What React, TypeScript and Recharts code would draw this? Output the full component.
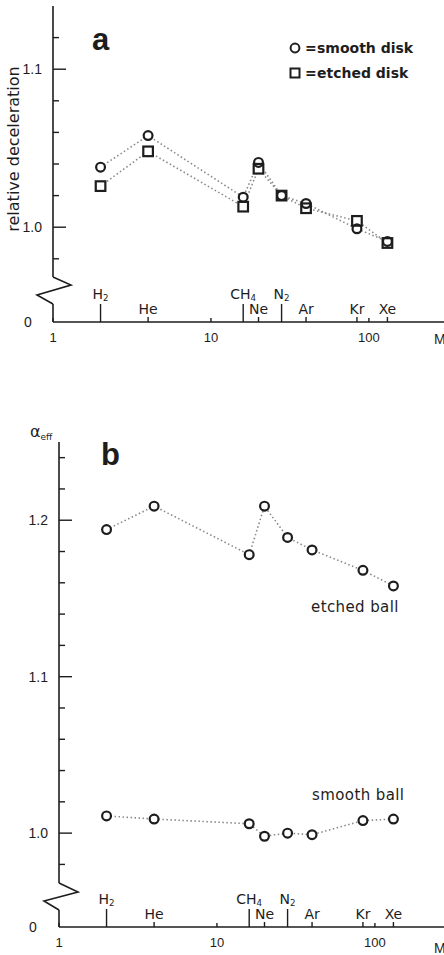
import { LineChart, Line, XAxis, YAxis } from 'recharts';

// gases along the mass axis
const gasNames = ['H2', 'He', 'CH4', 'Ne', 'N2', 'Ar', 'Kr', 'Xe'];
const gasMasses = [2, 4, 16, 20, 28, 40, 84, 131];

// a: relative deceleration of the spinning disk
const smoothDisk = [1.038, 1.058, 1.019, 1.041, 1.02, 1.015, 0.999, 0.991];
const etchedDisk = [1.026, 1.048, 1.013, 1.037, 1.02, 1.012, 1.004, 0.99];

// b: effective accommodation coefficient of the ball
const etchedBall = [1.194, 1.209, 1.178, 1.209, 1.189, 1.181, 1.168, 1.158];
const smoothBall = [1.011, 1.009, 1.006, 0.998, 1.0, 0.999, 1.008, 1.009];

const massDecades = [1, 10, 100];
const decelTicks = [0.98, 1.0, 1.02, 1.04, 1.06, 1.08, 1.1, 1.12];
const alphaTicks = [0.98, 1.0, 1.02, 1.04, 1.06, 1.08, 1.1, 1.12, 1.14, 1.16, 1.18, 1.2, 1.22, 1.24];

const diskRows = gasMasses.map((mass, i) => ({ mass, smooth: smoothDisk[i], etched: etchedDisk[i] }));
const ballRows = gasMasses.map((mass, i) => ({ mass, etched: etchedBall[i], smooth: smoothBall[i] }));
const massTicks = [...massDecades, ...gasMasses].sort((p, q) => p - q);

const INK = '#1d1d1d';
const DOTTED = '#8a8a8a';
const SANS = '"DejaVu Sans", sans-serif';
const HELV = '"Liberation Sans", Arial, sans-serif';
const MASS_DOMAIN: [number, number] = [1, 400];

function chem(name: string, size: number) {
  const m = name.match(/^([A-Za-z]+)(\d*)$/);
  const base = m ? m[1] : name;
  const sub = m ? m[2] : '';
  return [
    <tspan key="b">{base}</tspan>,
    sub ? (
      <tspan key="s" fontSize={size * 0.62} dy={2}>
        {sub}
      </tspan>
    ) : null,
  ];
}

function MassTick(props: any) {
  const { x, y, payload } = props;
  const v = payload.value;
  const gi = gasMasses.indexOf(v);
  if (gi < 0) {
    return (
      <g>
        <line x1={x} x2={x} y1={y} y2={y - 4} stroke={INK} strokeWidth={1.4} />
        <text x={x} y={y + 20} textAnchor="middle" fontSize={13} fontFamily={HELV} fill={INK}>
          {v}
        </text>
      </g>
    );
  }
  const name = gasNames[gi];
  const molecule = /\d/.test(name);
  return (
    <g>
      <line x1={x} x2={x} y1={y} y2={y - (molecule ? 18 : 5)} stroke={INK} strokeWidth={1.4} />
      <text x={x} y={y - (molecule ? 23 : 8)} textAnchor="middle" fontSize={14} fontFamily={SANS} fill={INK}>
        {chem(name, 14)}
      </text>
    </g>
  );
}

function ValueTick(props: any) {
  const { x, y, payload } = props;
  const v = payload.value;
  const major = Math.abs(v * 10 - Math.round(v * 10)) < 1e-6;
  return (
    <g>
      <line x1={x} x2={x + (major ? 13 : 6)} y1={y} y2={y} stroke={INK} strokeWidth={1.4} />
      {major && (
        <text x={x - 11} y={y + 5} textAnchor="end" fontSize={14} fontFamily={HELV} fill={INK}>
          {v.toFixed(1)}
        </text>
      )}
    </g>
  );
}

// marker renderers: a white pass hides the dotted lines, an outline pass draws the symbol
const ring = (fill: string, stroke: string) => (p: any) => (
  <circle key={`c${p.index}`} cx={p.cx} cy={p.cy} r={4.4} fill={fill} stroke={stroke} strokeWidth={2.2} />
);
const box = (fill: string, stroke: string) => (p: any) => (
  <rect key={`s${p.index}`} x={p.cx - 4.8} y={p.cy - 4.8} width={9.6} height={9.6} fill={fill} stroke={stroke} strokeWidth={2.2} />
);

const dottedProps = {
  type: 'linear' as const,
  stroke: DOTTED,
  strokeWidth: 1.6,
  strokeDasharray: '1.5 2.5',
  dot: false,
  activeDot: false,
  isAnimationActive: false,
  legendType: 'none' as const,
};
const markProps = {
  type: 'linear' as const,
  stroke: 'none',
  activeDot: false,
  isAnimationActive: false,
  legendType: 'none' as const,
};

function massAxis() {
  return (
    <XAxis
      dataKey="mass"
      type="number"
      scale="log"
      domain={MASS_DOMAIN}
      allowDataOverflow
      ticks={massTicks}
      interval={0}
      height={28}
      tickSize={0}
      tickMargin={0}
      tickLine={false}
      axisLine={{ stroke: INK, strokeWidth: 1.6 }}
      tick={<MassTick />}
    />
  );
}

function DiskChart() {
  return (
    <LineChart width={470} height={350} data={diskRows} margin={{ top: 6, right: 6, bottom: 0, left: 0 }}>
      {massAxis()}
      <XAxis
        xAxisId="frame"
        orientation="top"
        dataKey="mass"
        type="number"
        scale="log"
        domain={MASS_DOMAIN}
        allowDataOverflow
        height={0}
        tick={false}
        tickLine={false}
        axisLine={{ stroke: INK, strokeWidth: 1.6 }}
      />
      <YAxis
        type="number"
        domain={[0.94, 1.14]}
        allowDataOverflow
        ticks={decelTicks}
        interval={0}
        width={53}
        tickSize={0}
        tickMargin={0}
        tickLine={false}
        axisLine={{ stroke: INK, strokeWidth: 1.6 }}
        tick={<ValueTick />}
      />
      <Line dataKey="smooth" {...dottedProps} />
      <Line dataKey="etched" {...dottedProps} />
      <Line dataKey="etched" {...markProps} dot={box('#fff', 'none')} />
      <Line dataKey="smooth" {...markProps} dot={ring('#fff', 'none')} />
      <Line dataKey="etched" {...markProps} dot={box('none', INK)} />
      <Line dataKey="smooth" {...markProps} dot={ring('none', INK)} />
    </LineChart>
  );
}

function BallChart() {
  return (
    <LineChart width={476} height={525} data={ballRows} margin={{ top: 12, right: 6, bottom: 0, left: 0 }}>
      {massAxis()}
      <YAxis
        type="number"
        domain={[0.94, 1.25]}
        allowDataOverflow
        ticks={alphaTicks}
        interval={0}
        width={59}
        tickSize={0}
        tickMargin={0}
        tickLine={false}
        axisLine={{ stroke: INK, strokeWidth: 1.6 }}
        tick={<ValueTick />}
      />
      <Line dataKey="etched" {...dottedProps} />
      <Line dataKey="smooth" {...dottedProps} />
      <Line dataKey="etched" {...markProps} dot={ring('#fff', INK)} />
      <Line dataKey="smooth" {...markProps} dot={ring('#fff', INK)} />
    </LineChart>
  );
}

function Annotations() {
  const txt = { fontFamily: SANS, fill: INK };
  return (
    <svg width={444} height={955} style={{ position: 'absolute', left: 0, top: 0, pointerEvents: 'none' }}>
      {/* broken value axes */}
      <rect x={50} y={277} width={7} height={27} fill="#fff" />
      <polyline points="53,277 71,285 37,295 53,304" fill="none" stroke={INK} strokeWidth={1.6} />
      <rect x={56} y={883} width={7} height={27} fill="#fff" />
      <polyline points="59,883 78,892 44,901 59,910" fill="none" stroke={INK} strokeWidth={1.6} />

      {/* panel a */}
      <text x={92} y={50} fontFamily={HELV} fontWeight="bold" fontSize={31} fill={INK}>a</text>
      <text transform="translate(19,149) rotate(-90)" textAnchor="middle" fontSize={16} {...txt}>
        relative deceleration
      </text>
      <text x={28} y={327} textAnchor="middle" fontSize={14} fontFamily={HELV} fill={INK}>0</text>
      <text x={434} y={344} fontSize={14} fontFamily={HELV} fill={INK}>M</text>
      <circle cx={295} cy={48} r={4.4} fill="none" stroke={INK} strokeWidth={2} />
      <rect x={290.5} y={68.5} width={9} height={9} fill="none" stroke={INK} strokeWidth={2} />
      <text x={305} y={53} fontSize={14} fontWeight="bold" {...txt}>=</text>
      <text x={317} y={53} fontSize={14} fontWeight="bold" {...txt}>smooth disk</text>
      <text x={305} y={78} fontSize={14} fontWeight="bold" {...txt}>=</text>
      <text x={317} y={78} fontSize={14} fontWeight="bold" {...txt}>etched disk</text>

      {/* panel b */}
      <text x={101} y={465} fontFamily={HELV} fontWeight="bold" fontSize={31} fill={INK}>b</text>
      <text x={30} y={437} fontSize={16} {...txt}>
        α<tspan fontSize={9} dy={3}>eff</tspan>
      </text>
      <text x={311} y={612} fontSize={15} letterSpacing={0.4} {...txt}>etched ball</text>
      <text x={312} y={800} fontSize={15} letterSpacing={0.4} {...txt}>smooth ball</text>
      <text x={33} y={932} textAnchor="middle" fontSize={14} fontFamily={HELV} fill={INK}>0</text>
      <text x={434} y={953} fontSize={14} fontFamily={HELV} fill={INK}>M</text>
    </svg>
  );
}

export default function App() {
  return (
    <div style={{ position: 'absolute', left: 0, top: 0, width: 444, height: 955, overflow: 'hidden', background: '#fff' }}>
      <div style={{ position: 'absolute', left: 0, top: 0 }}>
        <DiskChart />
      </div>
      <div style={{ position: 'absolute', left: 0, top: 430 }}>
        <BallChart />
      </div>
      <Annotations />
    </div>
  );
}
